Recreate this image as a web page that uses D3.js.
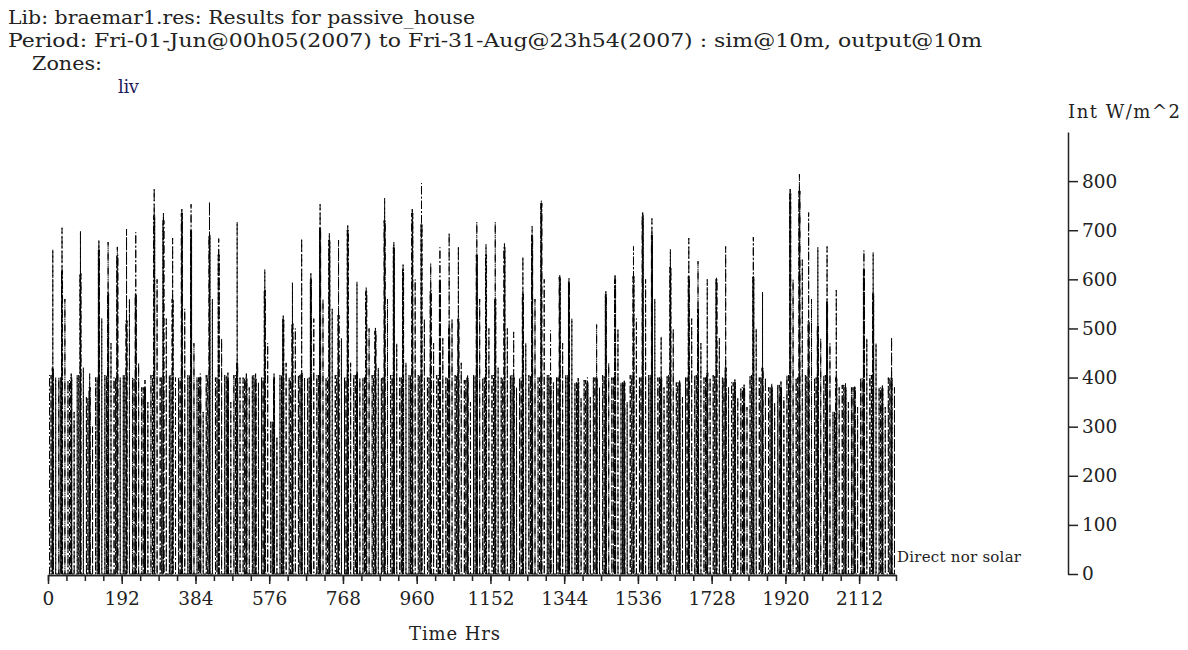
<!DOCTYPE html>
<html>
<head>
<meta charset="utf-8">
<script src="https://cdn.jsdelivr.net/npm/d3@7"></script>
<style>
  body { margin: 0; background: #fff; }
  svg text { font-family: "DejaVu Serif", serif; fill: #222; }
</style>
</head>
<body>
<div id="chart"></div>
<script>
// daily maximum of direct normal solar (W/m^2), Jun 1 .. Aug 31
var peakW = [
  661,705,408,698,408,681,676,666,702,696,
  395,786,737,684,743,753,408,758,683,410,
  717,408,408,620,408,526,593,683,612,753,
  694,680,712,595,583,501,765,676,630,743,
  796,633,665,695,667,404,717,671,717,673,
  493,646,708,761,496,608,602,399,400,508,
  578,608,396,667,736,724,484,661,396,684,
  637,600,605,667,396,388,686,574,388,392,
  784,814,736,665,667,578,388,384,659,655,
  386,482];

// next highest bursts each day
var secondW = [
  420,618,400,612,380,660,574,650,516,570,
  380,730,720,560,735,700,400,690,650,400,
  430,400,400,578,400,520,510,410,600,705,
  680,527,700,410,575,495,720,665,620,735,
  714,578,600,500,520,400,650,650,560,665,
  400,570,690,755,400,605,595,390,390,400,
  570,600,390,606,730,690,400,625,390,606,
  540,410,600,420,390,380,605,420,380,380,
  775,780,515,505,555,400,380,380,620,571,
  380,400];

// morning burst level
var lowW = [
  405,400,395,405,360,400,405,400,405,400,
  380,405,400,405,400,405,400,405,400,405,
  405,400,405,400,310,405,400,405,400,405,
  400,405,400,405,400,405,400,405,400,405,
  405,400,405,400,405,395,405,400,405,400,
  405,400,405,400,405,400,405,390,395,400,
  405,400,390,405,400,405,400,405,390,400,
  405,400,405,400,390,380,405,400,380,385,
  405,400,405,400,405,330,385,380,400,405,
  380,400];

// evening burst level
var eveW = [
  400,560,330,420,300,520,470,400,560,430,
  350,600,520,400,540,470,330,560,480,350,
  400,380,390,470,280,430,500,400,520,560,
  540,480,430,400,500,420,560,470,430,600,
  520,470,480,520,430,350,560,500,420,500,
  380,470,560,600,390,470,520,360,360,380,
  430,500,350,520,600,560,380,500,360,520,
  470,400,480,380,360,340,500,400,350,360,
  600,640,560,480,470,380,350,340,480,470,
  340,380];

// hour of day of each burst, and which level it reaches
var burstHours = [4, 8, 11.2, 12.5, 13.8, 20];
var burstLevel = [lowW, lowW, secondW, peakW, secondW, eveW];

var xMajor = d3.range(0, 2113, 192);
var xMinor = d3.range(0, 2209, 48);
var yTicks = d3.range(0, 801, 100);

var width = 1188, height = 650;

var svg = d3.select("#chart")
  .append("svg")
    .attr("width", width)
    .attr("height", height);

// header lines
var header = [
  {t: "Lib: braemar1.res: Results for passive_house", x: 8, y: 24, w: 467},
  {t: "Period: Fri-01-Jun@00h05(2007) to Fri-31-Aug@23h54(2007) : sim@10m, output@10m", x: 8, y: 47, w: 974},
  {t: "Zones:", x: 32, y: 70, w: 70}
];
svg.selectAll(".hdr")
  .data(header)
  .enter().append("text")
    .attr("class", "hdr")
    .attr("x", function(d) { return d.x; })
    .attr("y", function(d) { return d.y; })
    .attr("textLength", function(d) { return d.w; })
    .attr("lengthAdjust", "spacingAndGlyphs")
    .style("font-size", "18px")
    .text(function(d) { return d.t; });

svg.append("text")
  .attr("x", 118)
  .attr("y", 93)
  .attr("textLength", 21)
  .style("font-size", "18px")
  .style("fill", "#1c1c5c")
  .text("liv");

var x = d3.scaleLinear().domain([0, 2208]).range([48, 896]);
var y = d3.scaleLinear().domain([0, 900]).range([574, 132]);

// build the series: night at zero, bursts up and down in each day
var pts = [];
peakW.forEach(function(p, d) {
  var t0 = d * 24;
  pts.push({t: t0 + 2, v: 0});
  burstHours.forEach(function(h, k) {
    pts.push({t: t0 + h, v: 0});
    pts.push({t: t0 + h, v: burstLevel[k][d]});
    pts.push({t: t0 + h + 0.17, v: 0});
  });
  pts.push({t: t0 + 22, v: 0});
});

svg.append("path")
  .datum(pts)
  .attr("fill", "none")
  .attr("stroke", "#000")
  .attr("stroke-width", 1)
  .attr("stroke-dasharray", "8,2.5,1.5,2.5")
  .attr("d", d3.line()
    .x(function(d) { return x(d.t); })
    .y(function(d) { return y(d.v); }));

// x axis
svg.append("g")
  .attr("class", "axis")
  .attr("transform", "translate(0,575)")
  .call(d3.axisBottom(x).tickValues(xMajor).tickSize(9).tickPadding(8)
    .tickSizeOuter(0).tickFormat(d3.format("d")));
svg.append("g")
  .attr("class", "axis")
  .attr("transform", "translate(0,575)")
  .call(d3.axisBottom(x).tickValues(xMinor).tickSize(6).tickFormat("").tickSizeOuter(0));

// y axis on the right
svg.append("g")
  .attr("class", "axis")
  .attr("transform", "translate(1068,0)")
  .call(d3.axisRight(y).tickValues(yTicks).tickSize(10).tickPadding(4).tickSizeOuter(0));

svg.selectAll(".axis .domain, .axis .tick line")
  .attr("stroke", "#222")
  .attr("stroke-width", 1.5);
svg.selectAll(".axis .tick text")
  .style("font-size", "18.5px")
  .style("font-family", "DejaVu Serif, serif")
  .attr("fill", "#222");

svg.append("text")
  .attr("x", 1068)
  .attr("y", 118)
  .attr("textLength", 112)
  .style("font-size", "18px")
  .text("Int W/m^2");

svg.append("text")
  .attr("x", 409)
  .attr("y", 640)
  .attr("textLength", 91)
  .style("font-size", "18px")
  .text("Time Hrs");

svg.append("text")
  .attr("x", 897)
  .attr("y", 562)
  .attr("textLength", 124)
  .style("font-size", "15px")
  .text("Direct nor solar");
</script>
</body>
</html>
